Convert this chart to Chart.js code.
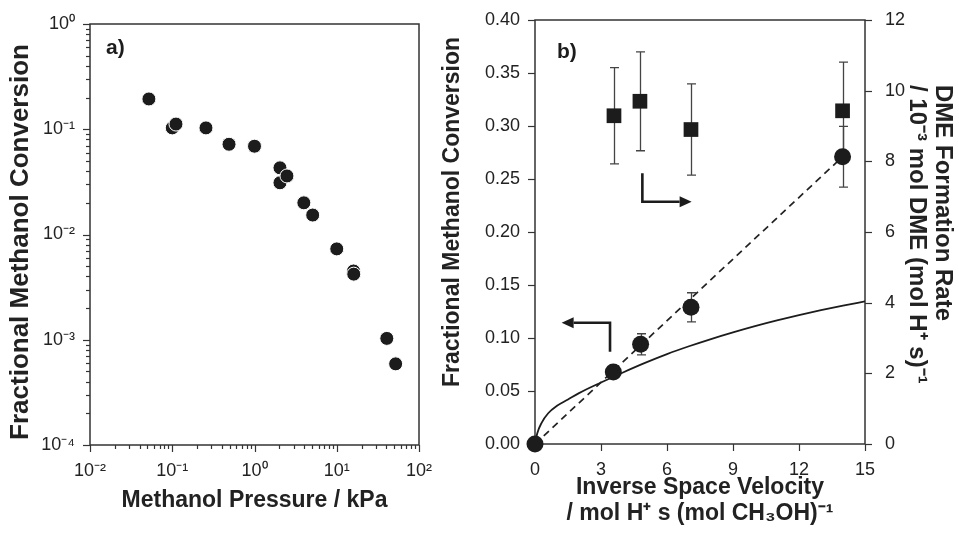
<!DOCTYPE html>
<html lang="en">
<head>
<meta charset="UTF-8" />
<title>Methanol conversion and DME formation</title>
<script src="https://cdn.jsdelivr.net/npm/chart.js"></script>
<style>
  html, body { margin: 0; padding: 0; background: #fff; }
  body { width: 959px; height: 534px; position: relative; overflow: hidden; }
  .panel { position: absolute; top: 0; height: 534px; }
  #panelA { left: 0; width: 440px; }
  #panelB { left: 440px; width: 519px; }
</style>
</head>
<body>
<div class="panel" id="panelA"><canvas id="chartA" width="440" height="534"></canvas></div>
<div class="panel" id="panelB"><canvas id="chartB" width="519" height="534"></canvas></div>
<script>
// a) fractional conversion vs methanol pressure (log-log)
const pressureKPa = [0.052, 0.1, 0.111, 0.257, 0.49, 1.0, 2.04, 2.04, 2.48, 3.98, 5.1, 10, 16.0, 16.1, 40.6, 52];
const conversionA = [0.194, 0.103, 0.112, 0.103, 0.072, 0.069, 0.043, 0.031, 0.036, 0.020, 0.0153, 0.0073, 0.0045, 0.0042, 0.00103, 0.00059];
const aXTicks = [0.01, 0.1, 1, 10, 100];
const aXLabels = ['10⁻²', '10⁻¹', '10⁰', '10¹', '10²'];
const aYTicks = [0.0001, 0.001, 0.01, 0.1, 1];
const aYLabels = ['10⁻⁴', '10⁻³', '10⁻²', '10⁻¹', '10⁰'];

// b) conversion and DME rate vs inverse space velocity
const invSpaceVel = [0, 3.56, 4.8, 7.09, 13.98];
const conversionB = [0, 0.068, 0.094, 0.129, 0.271];
const conversionErr = [0, 0, 0.010, 0.0137, 0.0286];
const rateX = [3.59, 4.77, 7.09, 13.98];
const dmeRate = [9.29, 9.70, 8.90, 9.43];
const dmeRateErr = [1.36, 1.40, 1.29, 1.38];
const fitX = [0, 13.98];
const fitY = [0, 0.271];
const modelX = [0, 0.1, 0.3, 0.6, 1.0, 1.5, 2, 3, 4, 5, 6, 7, 8, 9, 10, 11, 12, 13, 14, 15];
const modelY = [0, 0.010, 0.020, 0.029, 0.036, 0.042, 0.048, 0.058, 0.0675, 0.0765, 0.0848, 0.0922, 0.099, 0.1053, 0.1112, 0.1166, 0.1216, 0.1262, 0.1305, 0.1345];
const bXTicks = [0, 3, 6, 9, 12, 15];
const bYTicks = [0, 0.05, 0.10, 0.15, 0.20, 0.25, 0.30, 0.35, 0.40];
const bY2Ticks = [0, 2, 4, 6, 8, 10, 12];
// arrows pointing to the axis each series belongs to (x, left-axis y)
const arrowToLeft = [[3.41, 0.087], [3.41, 0.1144], [1.21, 0.1144]];
const arrowToRight = [[4.88, 0.2554], [4.88, 0.2286], [7.12, 0.2286]];

const FONT = "'Liberation Sans', Arial, Helvetica, sans-serif";
const INK = '#1c1c1c';
const AXIS = '#333';
const tickFont = { family: FONT, size: 18 };
const titleFont = { family: FONT, size: 23, weight: 'bold' };

function minorLog(decades) {
  const out = [];
  for (let i = 0; i < decades.length - 1; i++) {
    for (let k = 2; k <= 9; k++) out.push(decades[i] * k);
  }
  return out;
}

// box round the plot area, plus outward tick marks
const frameTicks = {
  id: 'frameTicks',
  beforeDatasetsDraw(chart, args, opts) {
    const { ctx, chartArea: a } = chart;
    ctx.save();
    ctx.strokeStyle = AXIS;
    ctx.lineWidth = 1.5;
    ctx.strokeRect(a.left, a.top, a.right - a.left, a.bottom - a.top);
    ctx.lineWidth = 1.2;
    for (const t of opts.marks) {
      const s = chart.scales[t.axis];
      for (const v of t.values) {
        const p = Math.round(s.getPixelForValue(v)) + 0.5;
        ctx.beginPath();
        if (s.position === 'bottom') { ctx.moveTo(p, a.bottom); ctx.lineTo(p, a.bottom + t.len); }
        else if (s.position === 'left') { ctx.moveTo(a.left, p); ctx.lineTo(a.left - t.len, p); }
        else { ctx.moveTo(a.right, p); ctx.lineTo(a.right + t.len, p); }
        ctx.stroke();
      }
    }
    ctx.restore();
  }
};

// vertical error bars taken from dataset.errors
const errorBars = {
  id: 'errorBars',
  beforeDatasetsDraw(chart) {
    const { ctx } = chart;
    ctx.save();
    ctx.strokeStyle = '#444';
    ctx.lineWidth = 1.3;
    chart.data.datasets.forEach(ds => {
      if (!ds.errors) return;
      const xs = chart.scales.x, ys = chart.scales[ds.yAxisID || 'y'];
      ds.data.forEach((pt, i) => {
        const e = ds.errors[i];
        if (!e) return;
        const x = Math.round(xs.getPixelForValue(pt.x)) + 0.5;
        const y1 = ys.getPixelForValue(pt.y + e), y2 = ys.getPixelForValue(pt.y - e);
        ctx.beginPath();
        ctx.moveTo(x, y1); ctx.lineTo(x, y2);
        ctx.moveTo(x - 4.5, y1); ctx.lineTo(x + 4.5, y1);
        ctx.moveTo(x - 4.5, y2); ctx.lineTo(x + 4.5, y2);
        ctx.stroke();
      });
    });
    ctx.restore();
  }
};

// panel letter, bent arrows and the rotated axis titles
const notes = {
  id: 'notes',
  afterDatasetsDraw(chart, args, opts) {
    const { ctx, chartArea: a } = chart;
    ctx.save();
    ctx.fillStyle = INK;
    ctx.font = 'bold 21px ' + FONT;
    ctx.textBaseline = 'alphabetic';
    ctx.fillText(opts.letter, a.left + opts.letterDx, a.top + opts.letterDy);
    ctx.strokeStyle = INK;
    ctx.lineWidth = 2.6;
    (opts.arrows || []).forEach(path => {
      const xs = chart.scales.x, ys = chart.scales.y;
      const pts = path.map(p => [xs.getPixelForValue(p[0]), ys.getPixelForValue(p[1])]);
      const [tx, ty] = pts[pts.length - 1];
      const [px, py] = pts[pts.length - 2];
      const ang = Math.atan2(ty - py, tx - px);
      const head = 12;
      ctx.beginPath();
      ctx.moveTo(pts[0][0], pts[0][1]);
      for (let i = 1; i < pts.length - 1; i++) ctx.lineTo(pts[i][0], pts[i][1]);
      ctx.lineTo(tx - head * Math.cos(ang), ty - head * Math.sin(ang));
      ctx.stroke();
      ctx.beginPath();
      ctx.moveTo(tx, ty);
      ctx.lineTo(tx - head * Math.cos(ang) - 5.5 * Math.sin(ang), ty - head * Math.sin(ang) + 5.5 * Math.cos(ang));
      ctx.lineTo(tx - head * Math.cos(ang) + 5.5 * Math.sin(ang), ty - head * Math.sin(ang) - 5.5 * Math.cos(ang));
      ctx.closePath();
      ctx.fill();
    });
    (opts.vTitles || []).forEach(t => {
      ctx.save();
      ctx.font = 'bold ' + t.size + 'px ' + FONT;
      ctx.fillStyle = '#222';
      ctx.textBaseline = 'middle';
      ctx.textAlign = t.align;
      ctx.translate(t.x, t.y);
      ctx.rotate(t.rot);
      ctx.fillText(t.text, 0, 0);
      ctx.restore();
    });
    ctx.restore();
  }
};

Chart.register(frameTicks, errorBars, notes);

function fixTicks(values) {
  return s => { s.ticks = values.map(v => ({ value: v })); };
}
function fixWidth(w) {
  return s => { s.width = w; s.paddingTop = 0; s.paddingBottom = 0; };
}
function fixHeight(h) {
  return s => { s.height = h; s.paddingLeft = 0; s.paddingRight = 0; };
}
const noGrid = { display: false, drawTicks: false };

new Chart(document.getElementById('chartA'), {
  type: 'scatter',
  data: {
    datasets: [{
      data: pressureKPa.map((x, i) => ({ x: x, y: conversionA[i] })),
      pointRadius: 7,
      pointBackgroundColor: INK,
      pointBorderColor: '#fff',
      pointBorderWidth: 1,
      clip: false
    }]
  },
  options: {
    responsive: false,
    animation: false,
    events: [],
    layout: { padding: { top: 24, right: 21, bottom: 0, left: 0 } },
    plugins: {
      legend: { display: false },
      tooltip: { enabled: false },
      frameTicks: {
        marks: [
          { axis: 'x', values: aXTicks, len: 7 },
          { axis: 'x', values: minorLog(aXTicks), len: 4 },
          { axis: 'y', values: aYTicks, len: 7 },
          { axis: 'y', values: minorLog(aYTicks), len: 4 }
        ]
      },
      notes: {
        letter: 'a)', letterDx: 16, letterDy: 30,
        vTitles: [{ text: 'Fractional Methanol Conversion', size: 26, x: 21, y: 242, rot: -Math.PI / 2, align: 'center' }]
      }
    },
    scales: {
      x: {
        type: 'logarithmic',
        min: 0.01, max: 100,
        afterBuildTicks: fixTicks(aXTicks),
        afterFit: fixHeight(89),
        grid: noGrid,
        border: { display: false },
        ticks: { font: tickFont, color: '#222', padding: 15, maxRotation: 0, autoSkip: false,
                 callback: (v, i) => aXLabels[i] },
        title: { display: true, text: 'Methanol Pressure / kPa', font: titleFont, color: '#222',
                 padding: { top: 0, bottom: 20 } }
      },
      y: {
        type: 'logarithmic',
        min: 0.0001, max: 1,
        afterBuildTicks: fixTicks(aYTicks),
        afterFit: fixWidth(90),
        grid: noGrid,
        border: { display: false },
        ticks: { font: tickFont, color: '#222', padding: 15, autoSkip: false,
                 callback: (v, i) => aYLabels[i] }
      }
    }
  }
});

new Chart(document.getElementById('chartB'), {
  type: 'scatter',
  data: {
    datasets: [
      {
        label: 'Conversion',
        data: invSpaceVel.map((x, i) => ({ x: x, y: conversionB[i] })),
        errors: conversionErr,
        yAxisID: 'y',
        pointRadius: 8.5,
        pointBackgroundColor: INK,
        pointBorderWidth: 0,
        clip: false
      },
      {
        label: 'DME rate',
        data: rateX.map((x, i) => ({ x: x, y: dmeRate[i] })),
        errors: dmeRateErr,
        yAxisID: 'y2',
        pointStyle: 'rect',
        pointRadius: 10.4,
        pointBackgroundColor: INK,
        pointBorderWidth: 0,
        clip: false
      },
      {
        label: 'Linear fit',
        data: fitX.map((x, i) => ({ x: x, y: fitY[i] })),
        yAxisID: 'y',
        showLine: true,
        pointRadius: 0,
        borderColor: '#222',
        borderWidth: 1.7,
        borderDash: [7, 5]
      },
      {
        label: 'Model',
        data: modelX.map((x, i) => ({ x: x, y: modelY[i] })),
        yAxisID: 'y',
        showLine: true,
        pointRadius: 0,
        borderColor: INK,
        borderWidth: 1.8,
        cubicInterpolationMode: 'monotone'
      }
    ]
  },
  options: {
    responsive: false,
    animation: false,
    events: [],
    layout: { padding: { top: 20, right: 0, bottom: 0, left: 0 } },
    plugins: {
      legend: { display: false },
      tooltip: { enabled: false },
      frameTicks: {
        marks: [
          { axis: 'x', values: bXTicks, len: 7 },
          { axis: 'y', values: bYTicks, len: 7 },
          { axis: 'y2', values: bY2Ticks, len: 7 }
        ]
      },
      notes: {
        letter: 'b)', letterDx: 22, letterDy: 38,
        arrows: [arrowToLeft, arrowToRight],
        vTitles: [
          { text: 'Fractional Methanol Conversion', size: 23, x: 13, y: 212, rot: -Math.PI / 2, align: 'center' },
          { text: 'DME Formation Rate', size: 24, x: 503, y: 85, rot: Math.PI / 2, align: 'left' },
          { text: '/ 10⁻³ mol DME (mol H⁺ s)⁻¹', size: 24, x: 477, y: 85, rot: Math.PI / 2, align: 'left' }
        ]
      }
    },
    scales: {
      x: {
        type: 'linear',
        min: 0, max: 15,
        afterBuildTicks: fixTicks(bXTicks),
        afterFit: fixHeight(90),
        grid: noGrid,
        border: { display: false },
        ticks: { font: tickFont, color: '#222', padding: 15, maxRotation: 0, autoSkip: false },
        title: { display: true, text: ['Inverse Space Velocity', '/ mol H⁺ s (mol CH₃OH)⁻¹'],
                 font: Object.assign({ lineHeight: 1.1 }, titleFont), color: '#222',
                 padding: { top: 0, bottom: 8 } }
      },
      y: {
        type: 'linear',
        position: 'left',
        min: 0, max: 0.4,
        afterBuildTicks: fixTicks(bYTicks),
        afterFit: fixWidth(95),
        grid: noGrid,
        border: { display: false },
        ticks: { font: tickFont, color: '#222', padding: 15, autoSkip: false,
                 callback: v => v.toFixed(2) }
      },
      y2: {
        type: 'linear',
        position: 'right',
        min: 0, max: 12,
        afterBuildTicks: fixTicks(bY2Ticks),
        afterFit: fixWidth(94),
        grid: noGrid,
        border: { display: false },
        ticks: { font: tickFont, color: '#222', padding: 20, autoSkip: false }
      }
    }
  }
});
</script>
</body>
</html>
